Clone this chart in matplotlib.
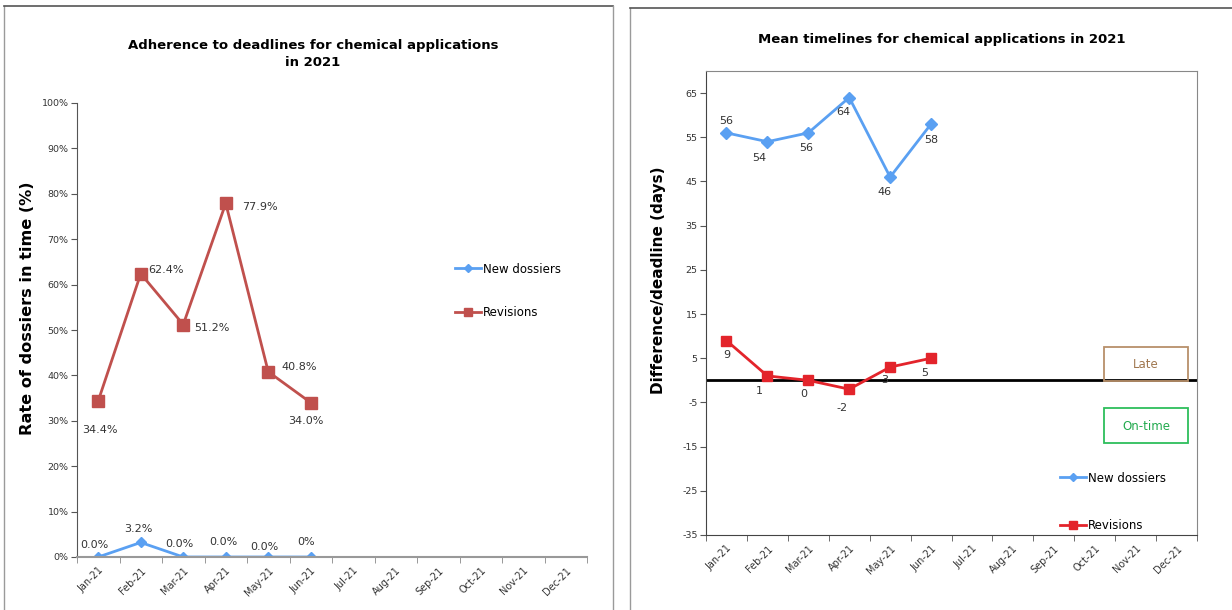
import matplotlib
matplotlib.use("Agg")
import matplotlib.pyplot as plt
from matplotlib.patches import Rectangle
from matplotlib.lines import Line2D

# ---------------- data ----------------
months = ["Jan-21", "Feb-21", "Mar-21", "Apr-21", "May-21", "Jun-21",
          "Jul-21", "Aug-21", "Sep-21", "Oct-21", "Nov-21", "Dec-21"]

adh_new = [0.0, 3.2, 0.0, 0.0, 0.0, 0.0]
adh_rev = [34.4, 62.4, 51.2, 77.9, 40.8, 34.0]
adh_new_labels = ["0.0%", "3.2%", "0.0%", "0.0%", "0.0%", "0%"]
adh_rev_labels = ["34.4%", "62.4%", "51.2%", "77.9%", "40.8%", "34.0%"]

mt_new = [56, 54, 56, 64, 46, 58]
mt_rev = [9, 1, 0, -2, 3, 5]

adh_yticks = [0, 10, 20, 30, 40, 50, 60, 70, 80, 90, 100]
mt_yticks = [-35, -25, -15, -5, 5, 15, 25, 35, 45, 55, 65]

# label offsets (pixels, +x right, +y up)
adh_new_off = [(-4, 12), (-2, 13), (-4, 13), (-2, 15), (-4, 10), (-5, 15)]
adh_rev_off = [(2, -29), (25, 4), (29, -3), (34, -4), (31, 5), (-5, -18)]
mt_new_off = [(0, 12), (-8, -16), (-2, -15), (-6, -14), (-6, -15), (0, -16)]
mt_rev_off = [(0, -14), (-8, -15), (-5, -14), (-7, -19), (-5, -13), (-6, -15)]

BLUE = "#5AA0F2"
RED_L = "#C0504D"
RED_R = "#E3242B"
W, H = 1232, 610

fig = plt.figure(figsize=(W / 100, H / 100), dpi=100)
plt.rcParams["font.family"] = ["DejaVu Sans"]


def fx(px):
    return px / W


def fy(py):
    return 1 - py / H


# panel frames
fig.add_artist(Line2D([fx(4), fx(4)], [0, fy(6)], color="#9a9a9a", lw=1))
fig.add_artist(Line2D([fx(4), fx(613)], [fy(6), fy(6)], color="#555555", lw=1.2))
fig.add_artist(Line2D([fx(613), fx(613)], [0, fy(6)], color="#9a9a9a", lw=1))
fig.add_artist(Line2D([fx(630), fx(630)], [0, fy(8)], color="#9a9a9a", lw=1))
fig.add_artist(Line2D([fx(630), 1], [fy(8), fy(8)], color="#555555", lw=1.2))

x = list(range(len(adh_new)))
ncat = len(months)

# ---------------- left chart ----------------
ax1 = fig.add_axes([fx(77), fy(557), fx(510), 454 / H])
ax1.plot(x, adh_new, color=BLUE, lw=2, marker="D", ms=5.5, label="New dossiers")
ax1.plot(x, adh_rev, color=RED_L, lw=2, marker="s", ms=8.5, label="Revisions")
ax1.set_xlim(-0.5, ncat - 0.5)
ax1.set_ylim(0, 100)
ax1.set_yticks(adh_yticks)
ax1.set_yticklabels([f"{v}%" for v in adh_yticks], fontsize=6.8, color="#333333")
ax1.set_xticks(range(ncat))
ax1.set_xticklabels(months, rotation=45, ha="right", rotation_mode="anchor",
                    fontsize=7, color="#333333")
ax1.set_xticks([i - 0.5 for i in range(ncat + 1)], minor=True)
ax1.tick_params(axis="x", which="major", length=0, pad=6)
ax1.tick_params(axis="x", which="minor", length=4, color="#888888")
ax1.tick_params(axis="y", length=4, color="#555555", pad=2)
for s in ["top", "right"]:
    ax1.spines[s].set_visible(False)
ax1.spines["left"].set_color("#555555")
ax1.spines["bottom"].set_color("#999999")
ax1.spines["bottom"].set_linewidth(1.5)
for i, (v, t) in enumerate(zip(adh_new, adh_new_labels)):
    ax1.annotate(t, (i, v), xytext=adh_new_off[i], textcoords="offset pixels",
                 ha="center", va="center", fontsize=8, color="#333333")
for i, (v, t) in enumerate(zip(adh_rev, adh_rev_labels)):
    ax1.annotate(t, (i, v), xytext=adh_rev_off[i], textcoords="offset pixels",
                 ha="center", va="center", fontsize=8, color="#333333")
fig.text(fx(313), fy(54), "Adherence to deadlines for chemical applications\nin 2021",
         ha="center", va="center", fontsize=9.5, fontweight="bold", linespacing=1.3)
fig.text(fx(28), fy(308), "Rate of dossiers in time (%)", rotation=90,
         ha="center", va="center", fontsize=11.6, fontweight="bold")
ax1.legend(loc="upper left", bbox_to_anchor=(fx(444), fy(252)),
           bbox_transform=fig.transFigure, frameon=False, fontsize=8.5,
           handlelength=2.2, handletextpad=0.2, labelspacing=2.6, markerscale=0.7)

# ---------------- right chart ----------------
ax2 = fig.add_axes([fx(706), fy(535), fx(491), 464 / H])
ax2.axhline(0, color="black", lw=2, zorder=1)
ax2.plot(x, mt_new, color=BLUE, lw=2, marker="D", ms=6, label="New dossiers", zorder=3)
ax2.plot(x, mt_rev, color=RED_R, lw=2, marker="s", ms=7.5, label="Revisions", zorder=3)
ax2.set_xlim(-0.5, ncat - 0.5)
ax2.set_ylim(-35, 70)
ax2.set_yticks(mt_yticks)
ax2.set_yticklabels([str(v) for v in mt_yticks], fontsize=6.8, color="#333333")
ax2.set_xticks(range(ncat))
ax2.set_xticklabels(months, rotation=45, ha="right", rotation_mode="anchor",
                    fontsize=7, color="#333333")
ax2.set_xticks([i - 0.5 for i in range(ncat + 1)], minor=True)
ax2.tick_params(axis="x", which="major", length=0, pad=6)
ax2.tick_params(axis="x", which="minor", length=4, color="#555555")
ax2.tick_params(axis="y", length=4, color="#555555", pad=2)
for s in ax2.spines.values():
    s.set_color("#888888")
ax2.spines["left"].set_color("#444444")
ax2.spines["bottom"].set_color("#444444")
for i, v in enumerate(mt_new):
    ax2.annotate(str(v), (i, v), xytext=mt_new_off[i], textcoords="offset pixels",
                 ha="center", va="center", fontsize=8, color="#333333")
for i, v in enumerate(mt_rev):
    ax2.annotate(str(v), (i, v), xytext=mt_rev_off[i], textcoords="offset pixels",
                 ha="center", va="center", fontsize=8, color="#333333")
fig.text(fx(942), fy(40), "Mean timelines for chemical applications in 2021",
         ha="center", va="center", fontsize=9.5, fontweight="bold")
fig.text(fx(659), fy(280), "Difference/deadline (days)", rotation=90,
         ha="center", va="center", fontsize=11, fontweight="bold")
ax2.legend(loc="upper left", bbox_to_anchor=(fx(1049), fy(461)),
           bbox_transform=fig.transFigure, frameon=False, fontsize=8.5,
           handlelength=2.2, handletextpad=0.2, labelspacing=2.9, markerscale=0.7)

# Late / On-time boxes
fig.add_artist(Rectangle((fx(1104), fy(381)), fx(84), 34 / H, fill=False,
                         edgecolor="#B8906A", lw=1.3))
fig.text(fx(1146), fy(364), "Late", ha="center", va="center", fontsize=8.5, color="#A0774F")
fig.add_artist(Rectangle((fx(1104), fy(443)), fx(84), 35 / H, fill=False,
                         edgecolor="#2DBE5C", lw=1.3))
fig.text(fx(1146), fy(426), "On-time", ha="center", va="center", fontsize=8.5, color="#22AA4E")

fig.savefig("out.png", dpi=100)
